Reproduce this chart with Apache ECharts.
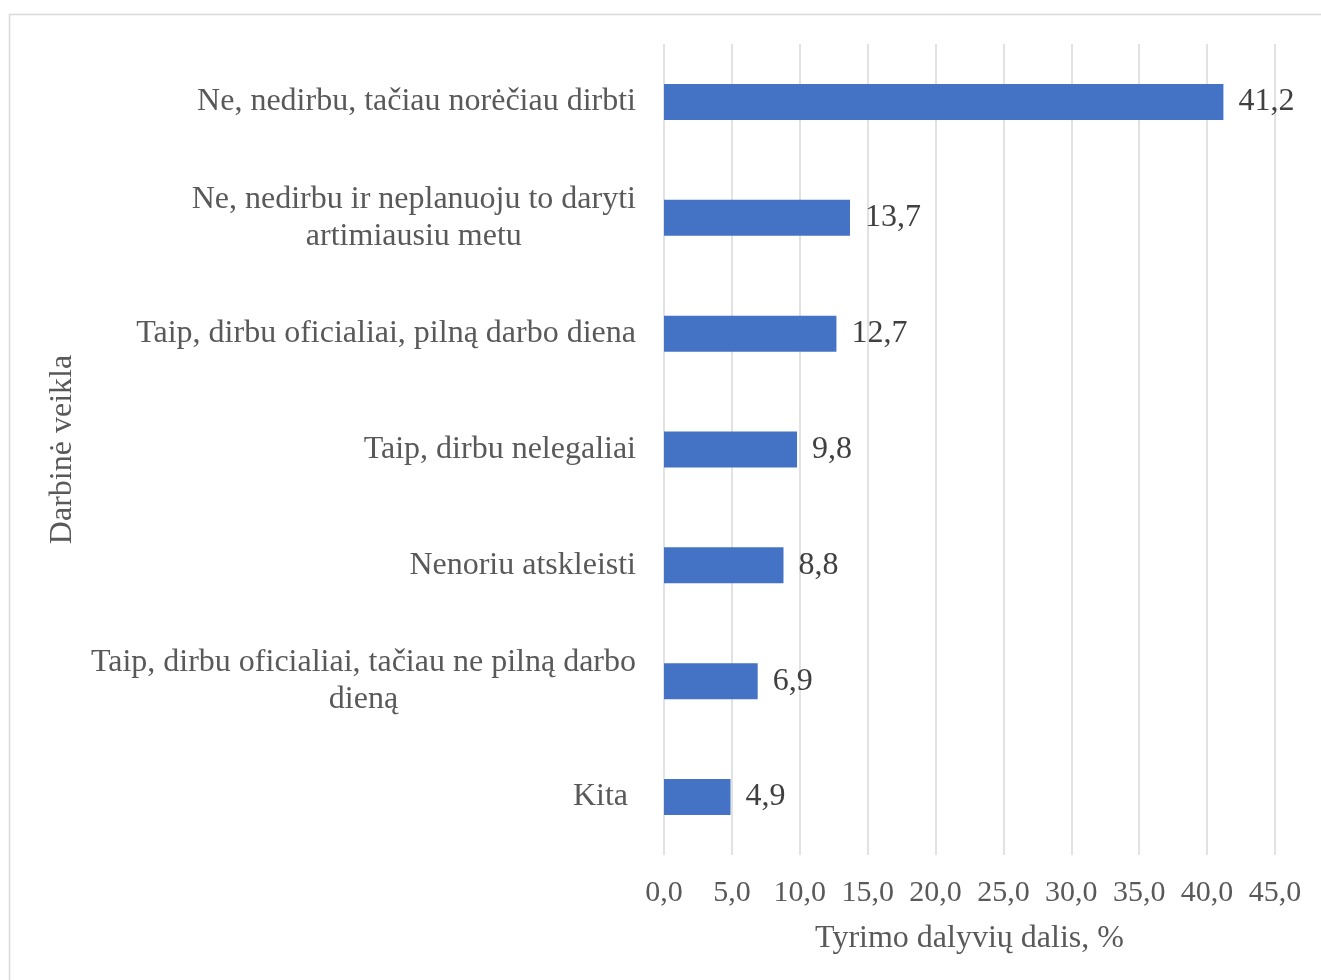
<!DOCTYPE html>
<html>
<head>
<meta charset="utf-8">
<script src="https://cdn.jsdelivr.net/npm/echarts@6/dist/echarts.min.js"></script>
<style>
  html, body { margin: 0; padding: 0; background: #fff; }
  #chart { width: 1321px; height: 980px; }
</style>
</head>
<body>
<div id="chart"></div>
<script>
// categories, top to bottom
const categories = [
  'Ne, nedirbu, tačiau norėčiau dirbti',
  'Ne, nedirbu ir neplanuoju to daryti\nartimiausiu metu',
  'Taip, dirbu oficialiai, pilną darbo diena',
  'Taip, dirbu nelegaliai',
  'Nenoriu atskleisti',
  'Taip, dirbu oficialiai, tačiau ne pilną darbo\ndieną',
  'Kita '
];
const shares = [41.2, 13.7, 12.7, 9.8, 8.8, 6.9, 4.9];

const xMin = 0;
const xMax = 45;
const xStep = 5;

const fmt = (v) => v.toFixed(1).replace('.', ',');
const font = '"Liberation Serif", "Times New Roman", serif';

const chart = echarts.init(document.getElementById('chart'));

const option = {
  backgroundColor: '#fff',
  animation: false,
  textStyle: { fontFamily: font },
  // outer chart frame
  graphic: [
    {
      type: 'rect',
      shape: { x: 9.5, y: 14.5, width: 1400, height: 1100 },
      style: { fill: 'none', stroke: '#d9d9d9', lineWidth: 1.5 },
      silent: true
    }
  ],
  grid: {
    left: 664,
    right: 46,
    top: 44,
    bottom: 125
  },
  xAxis: {
    type: 'value',
    min: xMin,
    max: xMax,
    interval: xStep,
    name: 'Tyrimo dalyvių dalis, %',
    nameLocation: 'middle',
    nameGap: 68,
    nameTextStyle: { fontFamily: font, fontSize: 32, color: '#595959' },
    axisLine: { show: false },
    axisTick: { show: false },
    axisLabel: {
      fontFamily: font,
      fontSize: 30,
      color: '#595959',
      margin: 23,
      formatter: (v) => fmt(v)
    },
    splitLine: { lineStyle: { color: '#d9d9d9', width: 1.5 } }
  },
  yAxis: {
    type: 'category',
    inverse: true,
    data: categories,
    name: 'Darbinė veikla',
    nameLocation: 'middle',
    nameRotate: 90,
    nameGap: 585,
    nameTextStyle: { fontFamily: font, fontSize: 32, color: '#595959' },
    axisLine: { show: false },
    axisTick: { show: false },
    axisLabel: {
      fontFamily: font,
      fontSize: 32,
      color: '#595959',
      margin: 28,
      lineHeight: 37,
      align: 'right',
      formatter: (v) => v.split('\n').map((s) => '{c|' + s + '}').join('\n'),
      rich: {
        c: {
          align: 'center',
          fontFamily: font,
          fontSize: 32,
          color: '#595959',
          lineHeight: 37
        }
      }
    }
  },
  series: [
    {
      type: 'bar',
      data: shares,
      barWidth: 36,
      itemStyle: { color: '#4472c4' },
      label: {
        show: true,
        position: 'right',
        distance: 15,
        fontFamily: font,
        fontSize: 32,
        color: '#404040',
        formatter: (p) => fmt(p.value)
      }
    }
  ]
};

chart.setOption(option);
window.addEventListener('resize', () => chart.resize());
</script>
</body>
</html>
